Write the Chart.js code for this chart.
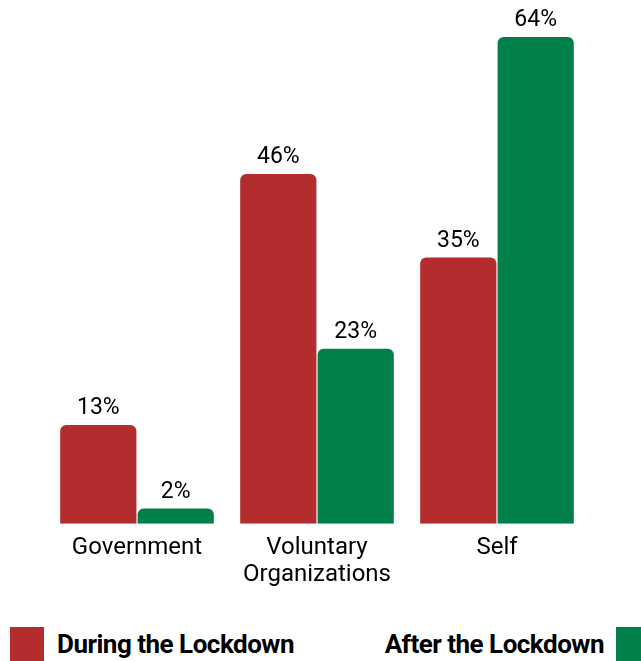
<!DOCTYPE html>
<html>
<head>
<meta charset="utf-8">
<script src="https://cdn.jsdelivr.net/npm/chart.js@4"></script>
<style>
  html, body { margin: 0; padding: 0; background: #fff; }
  #wrap { position: relative; width: 641px; height: 661px; overflow: hidden; }
  #grafico { position: absolute; left: 0; top: 0; }
  .leyenda { position: absolute; top: 626px; height: 35px; display: flex; align-items: center;
    font-family: Roboto, sans-serif; font-weight: bold; font-size: 26px; color: #000; letter-spacing: -0.5px; }
  .caja { width: 34px; height: 34px; display: inline-block; }
</style>
</head>
<body>
<div id="wrap">
  <canvas id="grafico" width="641" height="592"></canvas>
  <div class="leyenda" style="left:10px"><span class="caja" style="background:#B32D2F"></span><span style="margin-left:13px">During the Lockdown</span></div>
  <div class="leyenda" style="right:0px"><span style="margin-right:12px">After the Lockdown</span><span class="caja" style="background:#02804A;width:25px"></span></div>
</div>
<script>
const categorias = [["Government"], ["Voluntary", "Organizations"], ["Self"]];
const durante = [13, 46, 35];
const despues = [2, 23, 64];
const series = ["During the Lockdown", "After the Lockdown"];
const colores = ["#B32D2F", "#02804A"];

// etiquetas de valor encima de cada barra
const etiquetasValor = {
  id: 'etiquetasValor',
  afterDatasetsDraw(chart) {
    const ctx = chart.ctx;
    ctx.save();
    ctx.font = '23px Roboto';
    ctx.fillStyle = '#000';
    ctx.textAlign = 'center';
    ctx.textBaseline = 'bottom';
    chart.data.datasets.forEach((ds, i) => {
      chart.getDatasetMeta(i).data.forEach((bar, j) => {
        ctx.fillText(ds.data[j] + '%', bar.x, bar.y - 5);
      });
    });
    ctx.restore();
  }
};

new Chart(document.getElementById('grafico'), {
  type: 'bar',
  data: {
    labels: categorias,
    datasets: [
      { label: series[0], data: durante, backgroundColor: colores[0] },
      { label: series[1], data: despues, backgroundColor: colores[1] }
    ]
  },
  options: {
    responsive: false,
    animation: false,
    layout: { padding: { top: 37, left: 47, right: 54, bottom: 0 } },
    datasets: {
      bar: {
        categoryPercentage: 0.86,
        barPercentage: 0.985,
        borderRadius: { topLeft: 6, topRight: 6, bottomLeft: 0, bottomRight: 0 },
        borderSkipped: 'bottom'
      }
    },
    plugins: { legend: { display: false }, tooltip: { enabled: false } },
    scales: {
      y: { display: false, min: 0, max: 64 },
      x: {
        grid: { display: false },
        border: { display: false },
        ticks: { color: '#000', font: { family: 'Roboto', size: 24, lineHeight: 1.13 }, padding: 3, maxRotation: 0 }
      }
    }
  },
  plugins: [etiquetasValor]
});
</script>
</body>
</html>
